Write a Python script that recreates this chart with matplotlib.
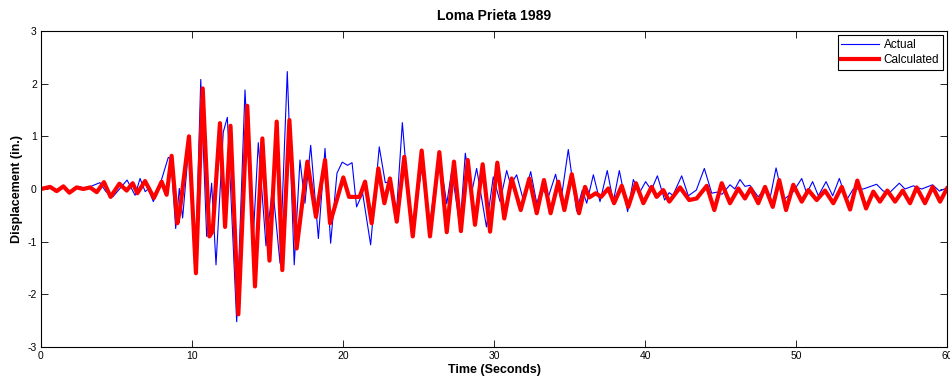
import matplotlib
matplotlib.use("Agg")
import matplotlib.pyplot as plt

# ---- data (extrema of each trace) ----
actual_t = [0.0, 0.6, 1.1, 1.5, 2.0, 2.5, 3.0, 3.3, 3.9, 4.3, 4.75, 5.2, 5.7, 6.23, 6.56, 6.9, 7.1, 7.44,
            7.9, 8.43, 8.6, 8.92, 9.16, 9.38, 9.82, 10.24, 10.58, 10.97, 11.3, 11.59, 12.07, 12.34, 12.96,
            13.51, 14.03, 14.39, 14.9, 15.34, 15.83, 16.31, 16.77, 17.15, 17.48, 17.86, 18.37, 18.81,
            19.18, 19.6, 19.95, 20.3, 20.6, 20.9, 21.3, 21.83, 22.4, 22.8, 23.1, 23.55, 23.93, 24.55,
            25.21, 25.76, 26.36, 26.87, 27.2, 27.75, 28.1, 28.5, 28.85, 29.5, 29.95, 30.4, 30.84, 31.1,
            31.5, 31.94, 32.43, 32.83, 33.16, 33.6, 34.08, 34.44, 34.92, 35.47, 35.85, 36.14, 36.58,
            37.02, 37.5, 37.9, 38.3, 38.85, 39.23, 39.62, 40.04, 40.42, 40.82, 41.3, 41.6, 41.85,
            42.43, 42.87, 43.4, 43.93, 44.42, 44.75, 45.1, 45.63, 45.95, 46.29, 46.62, 46.95, 47.5,
            47.95, 48.3, 48.68, 49.16, 49.82, 50.38, 50.71, 51.1, 51.48, 51.99, 52.43, 52.87, 53.35,
            53.79, 54.46, 55.34, 55.78, 56.23, 56.84, 57.22, 57.77, 58.32, 59.05, 59.5, 60.0]
actual_v = [0.0, 0.03, -0.03, 0.04, -0.06, 0.05, 0.0, 0.05, 0.12, -0.05, -0.15, 0.0, 0.17, -0.12, 0.2, -0.05, 0.0, -0.24,
            0.1, 0.6, 0.58, -0.75, 0.01, -0.55, 0.93, -1.35, 2.08, -0.9, 0.11, -1.44, 1.08, 1.36, -2.52,
            1.88, -1.06, 0.88, -1.08, 0.05, -1.41, 2.23, -1.44, 0.55, -0.27, 0.83, -0.94, 0.77,
            -1.03, 0.3, 0.51, 0.45, 0.5, -0.34, -0.08, -1.06, 0.8, 0.12, 0.14, -0.4, 1.26, -0.9,
            0.39, -0.65, 0.7, -0.28, 0.35, -0.72, 0.68, -0.1, 0.39, -0.72, 0.23, -0.24, 0.35, 0.08,
            0.27, -0.21, 0.33, -0.27, 0.01, -0.15, 0.28, -0.21, 0.75, -0.42, -0.02, -0.27, 0.27,
            -0.24, 0.35, -0.24, 0.35, -0.43, 0.18, -0.08, 0.14, -0.02, 0.25, -0.21, -0.07, -0.12,
            0.25, -0.13, -0.02, 0.39, -0.08, -0.06, -0.1, 0.08, 0.0, 0.18, 0.05, 0.07, -0.15,
            0.02, -0.15, 0.4, -0.21, -0.05, 0.2, -0.08, 0.14, -0.13, 0.14, -0.13, 0.2, -0.21,
            0.0, 0.0, 0.09, -0.04, -0.06, 0.11, 0.0, 0.06, 0.0, 0.08, -0.04, 0.02]

calc_t = [0.0, 0.6, 1.04, 1.48, 1.88, 2.36, 2.8, 3.25, 3.69, 4.17, 4.61, 5.19, 5.67, 6.07, 6.38, 6.89, 7.48,
          7.99, 8.32, 8.65, 9.03, 9.2, 9.8, 10.26, 10.71, 11.15, 11.37, 11.85, 12.19, 12.55, 13.07, 13.66,
          14.17, 14.66, 15.13, 15.61, 15.98, 16.45, 16.93, 17.64, 18.21, 18.81, 19.14, 20.02, 20.4, 21.1,
          21.46, 21.9, 22.34, 22.74, 23.11, 23.56, 24.06, 24.62, 25.21, 25.76, 26.38, 26.87, 27.35, 27.81,
          28.26, 28.74, 29.25, 29.74, 30.22, 30.68, 31.17, 31.77, 32.34, 32.83, 33.31, 33.75, 34.26,
          34.66, 35.15, 35.63, 36.03, 36.31, 36.74, 37.09, 37.57, 37.95, 38.46, 38.89, 39.4, 39.89,
          40.44, 40.77, 41.21, 41.61, 42.32, 42.93, 43.42, 44.09, 44.59, 45.08, 45.63, 46.18, 46.62,
          47.0, 47.5, 47.95, 48.46, 48.89, 49.34, 49.82, 50.38, 50.82, 51.37, 51.92, 52.47, 53.03,
          53.58, 54.06, 54.64, 55.12, 55.56, 56.05, 56.56, 57.07, 57.55, 57.99, 58.54, 59.05, 59.54, 60.0]
calc_v = [0.0, 0.04, -0.04, 0.05, -0.07, 0.03, 0.0, 0.03, -0.06, 0.13, -0.15, 0.1, -0.03, 0.11, -0.08, 0.15, -0.17,
          0.14, -0.11, 0.63, -0.65, -0.4, 1.0, -1.6, 1.91, -0.9, -0.8, 1.25, -0.72, 1.2, -2.38, 1.58,
          -1.85, 0.96, -1.36, 1.28, -1.54, 1.31, -1.13, 0.52, -0.53, 0.55, -0.65, 0.22, -0.15, -0.15,
          0.14, -0.65, 0.39, -0.27, 0.2, -0.62, 0.61, -0.9, 0.73, -0.9, 0.7, -0.82, 0.52, -0.8,
          0.55, -0.68, 0.47, -0.81, 0.5, -0.56, 0.2, -0.4, 0.2, -0.46, 0.17, -0.46, 0.14,
          -0.4, 0.28, -0.46, 0.04, -0.16, -0.08, -0.15, 0.01, -0.27, 0.06, -0.34, 0.11, -0.27,
          0.04, -0.15, -0.02, -0.24, 0.03, -0.21, -0.18, 0.06, -0.4, 0.11, -0.27, 0.01, -0.18,
          0.01, -0.27, 0.04, -0.34, 0.17, -0.4, 0.08, -0.24, -0.02, -0.21, -0.03, -0.27, 0.04,
          -0.39, 0.16, -0.37, -0.05, -0.24, -0.03, -0.24, -0.03, -0.27, 0.03, -0.27, 0.04, -0.24, 0.01]

x_ticks = [0, 10, 20, 30, 40, 50, 60]
y_ticks = [-3, -2, -1, 0, 1, 2, 3]

plt.rcParams['font.family'] = ['Liberation Sans', 'DejaVu Sans']
plt.rcParams['axes.unicode_minus'] = False

fig = plt.figure(figsize=(9.5, 3.79), dpi=100)
ax = fig.add_axes([41/950, 1 - 347/379, 906/950, 316/379])

ax.plot(actual_t, actual_v, color='#0000ff', lw=0.8, label='Actual', solid_joinstyle='round')
ax.plot(calc_t, calc_v, color='#ff0000', lw=3.0, label='Calculated', solid_joinstyle='round')

ax.set_xlim(0, 60)
ax.set_ylim(-3, 3)
ax.set_xticks(x_ticks)
ax.set_yticks(y_ticks)
ax.tick_params(direction='in', top=True, right=True, length=5, width=0.6, labelsize=7.5, pad=3)
for s in ax.spines.values():
    s.set_linewidth(0.8)

ax.set_title('Loma Prieta 1989', fontsize=10, fontweight='bold', pad=8)
ax.set_xlabel('Time (Seconds)', fontsize=9, fontweight='bold', labelpad=2)
ax.set_ylabel('Displacement (in.)', fontsize=9, fontweight='bold', labelpad=3)

leg = ax.legend(loc='upper right', fontsize=8.5, fancybox=False, framealpha=1, edgecolor='black',
                borderaxespad=0.35, handlelength=3.2, borderpad=0.3, labelspacing=0.3, handletextpad=0.4)
leg.get_frame().set_linewidth(0.8)

fig.savefig('out.png', dpi=100)
